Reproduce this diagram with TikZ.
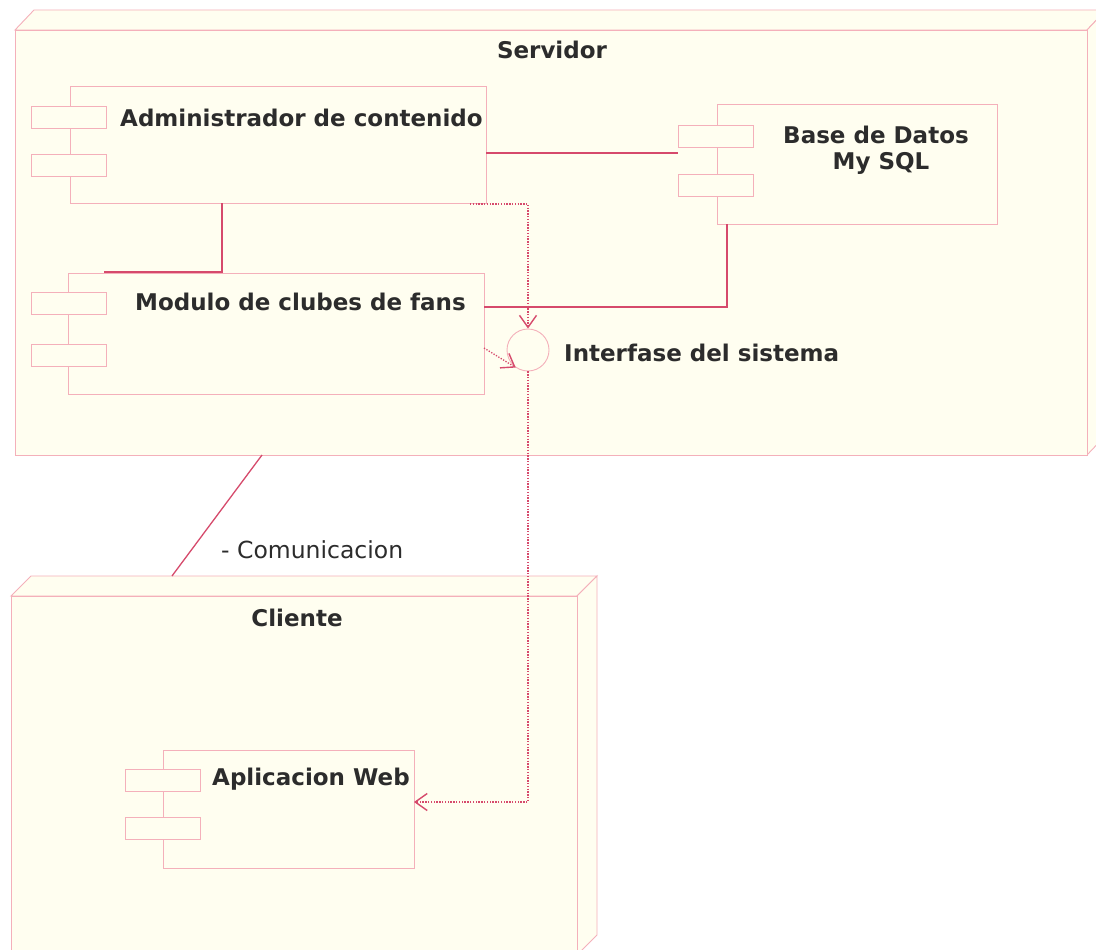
\documentclass[tikz,border=0pt]{standalone}
\usepackage{fontspec}
\setmainfont{DejaVu Sans}
\usetikzlibrary{arrows.meta,calc,positioning}
\definecolor{nodefill}{HTML}{FFFEF0}
\definecolor{nodeline}{HTML}{F4B0BA}
\definecolor{conline}{HTML}{D64A6C}
\definecolor{txt}{HTML}{2C2C2C}
\tikzset{
  box3d/.style={draw=nodeline,fill=nodefill,line width=0.9pt,line join=miter},
  comp/.style={draw=nodeline,fill=nodefill,line width=0.9pt,rectangle,inner sep=0pt},
  port/.style={draw=nodeline,fill=nodefill,line width=0.9pt,rectangle,inner sep=0pt,minimum width=75pt,minimum height=22pt},
  lbl/.style={text=txt,font=\fontsize{23}{27}\selectfont\bfseries,inner sep=0pt},
  plainlbl/.style={text=txt,font=\fontsize{23.5}{28}\selectfont,inner sep=0pt},
  assoc/.style={draw=conline,line width=1.3pt},
  dep/.style={draw=conline,line width=1.3pt,dash pattern=on 1.3pt off 1.5pt,
     -{Straight Barb[length=12pt,width=17pt,line width=1.4pt]}},
  iface/.style={circle,draw=nodeline,fill=nodefill,line width=0.9pt,minimum size=42pt,inner sep=0pt}
}
\begin{document}
\begin{tikzpicture}[x=1pt,y=-1pt]
\useasboundingbox (0,0) rectangle (1096,950);
\clip (0,0) rectangle (1096,950);
\fill[white] (0,0) rectangle (1096,950);

% ---------- Servidor node (3D box)
\path[box3d] (15,30) -- (34,10) -- (1106,10) -- (1087,30) -- cycle;
\path[box3d] (1087,30) -- (1106,10) -- (1106,435) -- (1087,455) -- cycle;
\node[box3d,rectangle,inner sep=0pt,minimum width=1072pt,minimum height=425pt] (srv) at (551,242.5) {};
\node[lbl] (srvlbl) at (552,50) {Servidor};

% ---------- Cliente node (3D box)
\path[box3d] (11,596) -- (31,576) -- (597,576) -- (577,596) -- cycle;
\path[box3d] (577,596) -- (597,576) -- (597,935) -- (577,955) -- cycle;
\node[box3d,rectangle,inner sep=0pt,minimum width=566pt,minimum height=359pt] (cli) at (294,775.5) {};
\node[lbl] (clilbl) at (297,618) {Cliente};
\coordinate (cliTop) at (172,576);

% ---------- Components
\node[comp,minimum width=416pt,minimum height=117pt] (adm) at (278,144.5) {};
\node[port] (adm1) at (68.5,117) {};
\node[port] (adm2) at (68.5,165) {};
\node[lbl,anchor=west] (admlbl) at (120,118) {Administrador de contenido};

\node[comp,minimum width=416pt,minimum height=121pt] (mod) at (276,333.5) {};
\node[port] (mod1) at (68.5,303) {};
\node[port] (mod2) at (68.5,355) {};
\node[lbl,anchor=west] (modlbl) at (135,302) {Modulo de clubes de fans};

\node[comp,minimum width=280pt,minimum height=120pt] (bd) at (857,164) {};
\node[port] (bd1) at (715.5,136.5) {};
\node[port] (bd2) at (715.5,185) {};
\node[lbl,align=center] (bdlbl) at (876,150) {Base de Datos\\[-1pt]\hspace*{10pt}My SQL};

\node[comp,minimum width=251pt,minimum height=118pt] (web) at (288.5,809) {};
\node[port] (web1) at (162.5,780) {};
\node[port] (web2) at (162.5,828) {};
\node[lbl,anchor=west] (weblbl) at (212,779) {Aplicacion Web};

% ---------- Interface
\node[iface] (ifc) at (528,350) {};
\node[lbl,anchor=west] (ifclbl) at (564,353) {Interfase del sistema};

% ---------- Associations
\coordinate (admE) at (486,153);
\coordinate (bdW) at (678,153);
\draw[assoc] (admE) -- (bdW);

\coordinate (admS) at (222,203);
\coordinate (modT) at (104,272);
\draw[assoc] (admS) |- (modT);

\coordinate (modE) at (484,307);
\coordinate (bdS) at (727,224);
\draw[assoc] (modE) -| (bdS);

\coordinate (srvB) at (262,455);
\draw[assoc] (srvB) -- (cliTop);
\node[plainlbl,anchor=west] (comlbl) at (221,550) {- Comunicacion};

% ---------- Dependencies
\coordinate (admD) at (470,204);
\draw[dep] (admD) -| (ifc.north);
\coordinate (modD) at (484,348);
\draw[dep] (modD) -- (ifc.235);
\coordinate (webE) at (414,802);
\draw[dep] (ifc.south) |- (webE);
\end{tikzpicture}
\end{document}
